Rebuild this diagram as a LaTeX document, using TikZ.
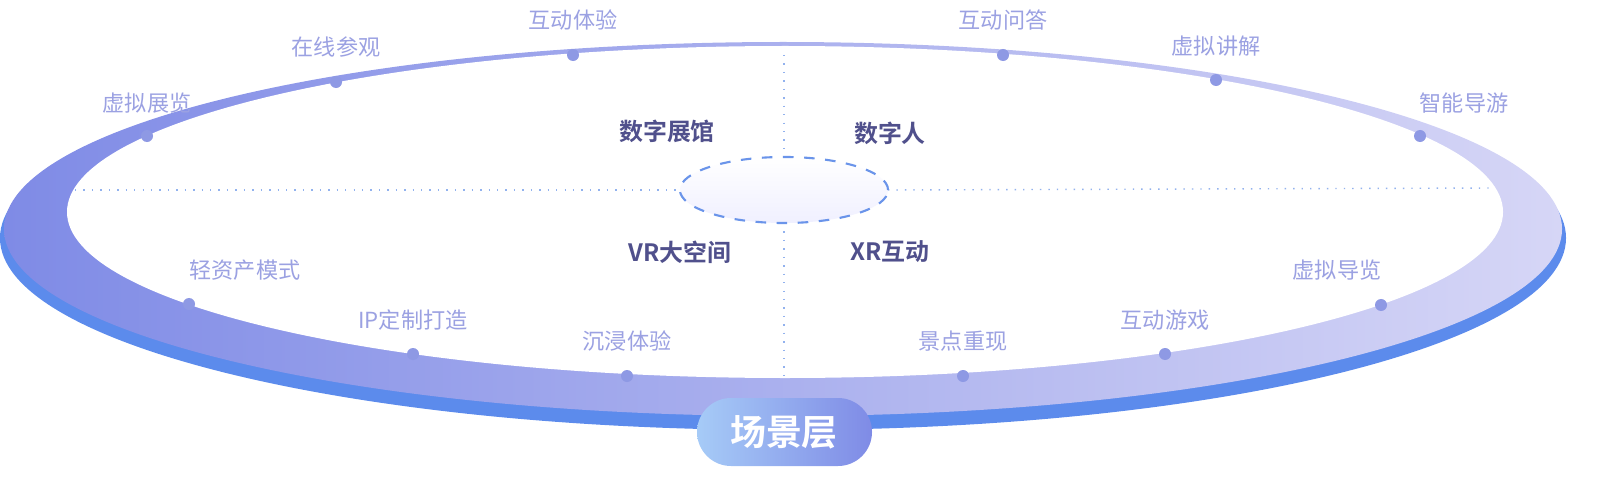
\documentclass[tikz,border=0pt]{standalone}
\usetikzlibrary{shapes.geometric}
\usepackage{fontspec}
\newfontfamily\cjk{Noto Sans CJK SC}
\newfontfamily\cjkb{Noto Sans CJK SC Bold}
\definecolor{lab}{HTML}{9BA1E2}
\definecolor{dotc}{HTML}{8E99E4}
\definecolor{dark}{HTML}{50508C}
\definecolor{rim}{HTML}{5C8BEC}
\definecolor{ringL}{HTML}{7F8BE6}
\definecolor{ringM}{HTML}{93C0F6}
\definecolor{ringR}{HTML}{D6D6F6}
\definecolor{dline}{HTML}{92B2EE}
\definecolor{cen}{HTML}{6A94EA}
\definecolor{pillL}{HTML}{A6CBF7}
\definecolor{pillM}{HTML}{4A7DE8}
\tikzset{
 lbl/.style={font=\cjk\fontsize{6.3}{7}\selectfont,text=lab,inner sep=0},
 hd/.style={font=\cjkb\fontsize{6.8}{8}\selectfont,text=dark,inner sep=0},
 pt/.style={circle,fill=dotc,inner sep=0,minimum size=0.12cm},
 guide/.style={dline,dotted,line width=0.4pt}
}
\begin{document}%
\begin{tikzpicture}[x=0.01cm,y=-0.01cm]%
\useasboundingbox (0,0) rectangle (1604,479);
\begin{scope}
\clip (0,0) rectangle (1604,479);
% ring
\fill[rim] (783,238) ellipse [x radius=783,y radius=192];
\shade[left color=ringL,middle color=ringM,right color=ringR] (783,229) ellipse [x radius=779,y radius=187];
\fill[white] (785,212) ellipse [x radius=718,y radius=166];
% guides
\draw[guide] (75,190) -- (680,190);
\draw[guide] (888,190) -- (1495,188);
\draw[guide] (784,55) -- (784,157);
\draw[guide] (784,223) -- (784,378);
\node[draw=cen,dashed,line width=0.6pt,ellipse,minimum width=2.08cm,minimum height=0.66cm,inner sep=0,top color=white,bottom color=blue!6] (c) at (784,190) {};
% heads
\node[hd] (h1) at (667,131) {数字展馆};
\node[hd] (h2) at (890,133) {数字人};
\node[hd] (h3) at (680,252) {VR大空间};
\node[hd] (h4) at (890,252) {XR互动};
% dots and labels
\foreach \n/\dx/\dy/\lx/\ly/\t in {
 a/147/136/147/103/虚拟展览, b/336/82/336/47/在线参观, c2/573/55/573/20/互动体验,
 d/1003/55/1003/20/互动问答, e/1216/80/1216/46/虚拟讲解, f/1420/136/1464/103/智能导游,
 g/189/304/245/270/轻资产模式, h/413/354/413/320/IP定制打造, i/627/376/627/341/沉浸体验,
 j/963/376/963/341/景点重现, k/1165/354/1165/320/互动游戏, l/1381/305/1337/270/虚拟导览}{
 \node[pt] (p\n) at (\dx,\dy) {};
 \node[lbl] (t\n) at (\lx,\ly) {\t};
}
% pill
\shade[rounded corners=0.34cm,left color=pillL,middle color=pillM,right color=ringL] (697,398) rectangle (872,466);
\node[font=\cjkb\fontsize{10.2}{12}\selectfont,text=white] (pill) at (784,432) {场景层};
\end{scope}
\end{tikzpicture}%
\end{document}
